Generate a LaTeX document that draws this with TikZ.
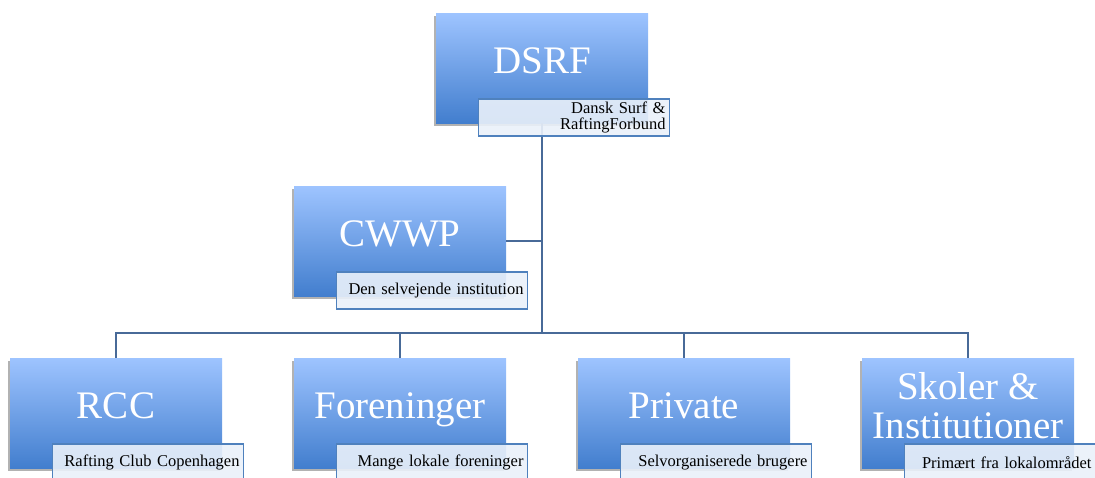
\documentclass[tikz,border=0pt]{standalone}
\usepackage{fontspec}
\setmainfont{Liberation Serif}
\usetikzlibrary{shadows}
\definecolor{boxtop}{RGB}{158,196,255}
\definecolor{boxbottom}{RGB}{66,126,206}
\definecolor{tagfill}{RGB}{234,241,250}
\definecolor{tagline}{RGB}{79,129,189}
\definecolor{wirecol}{RGB}{72,106,152}
\tikzset{
  unit/.style={minimum width=212pt, minimum height=110pt, inner sep=0pt,
    top color=boxtop, bottom color=boxbottom,
    drop shadow={shadow xshift=-2pt, shadow yshift=-3pt, fill=black, opacity=.3}},
  title/.style={text=white, anchor=base, align=center,
    font=\fontsize{39}{39}\selectfont},
  tag/.style={anchor=north west, draw=tagline, line width=1.5pt,
    fill=tagfill, fill opacity=.9, text opacity=1,
    minimum width=191pt, minimum height=37pt, text width=183pt,
    inner xsep=4pt, inner ysep=0pt, align=right,
    font=\fontsize{16.5}{16}\selectfont},
  link/.style={draw=wirecol, line width=1.8pt}
}
\begin{document}
\begin{tikzpicture}[x=1pt,y=-1pt]
\useasboundingbox (0,0) rectangle (1095,477);

% boxes
\node[unit] (dsrf) at (542,68) {};
\node[unit] (cwwp) at (400,241) {};
\node[unit] (rcc) at (116,413) {};
\node[unit] (foren) at (400,413) {};
\node[unit] (priv) at (684,413) {};
\node[unit] (skoler) at (968,413) {};

% titles
\node[title] (dsrf-t) at ([yshift=-5pt]dsrf.center) {DSRF};
\node[title] (cwwp-t) at ([yshift=-5pt]cwwp.center) {CWWP};
\node[title] (rcc-t) at ([yshift=-5pt]rcc.center) {RCC};
\node[title] (foren-t) at ([yshift=-5pt]foren.center) {Foreninger};
\node[title] (priv-t) at ([yshift=-5pt]priv.center) {Private};
\node[title] (skoler-t) at ([yshift=-25pt]skoler.center) {Skoler \&\\Institutioner};

% connectors
\coordinate (hub) at (dsrf.south |- 0,333);
\draw[link] (dsrf.south) -- (hub);
\draw[link] (cwwp.east) -- (cwwp.east -| hub);
\draw[link] (rcc.north) |- (hub) -| (skoler.north);
\foreach \n in {foren,priv}
  \draw[link] (\n.north |- hub) -- (\n.north);

% tags
\node[tag] (dsrf-l) at ([xshift=42pt,yshift=25pt]dsrf.south west) {Dansk Surf \&\\RaftingForbund};
\node[tag] (cwwp-l) at ([xshift=42pt,yshift=25pt]cwwp.south west) {Den selvejende institution};
\node[tag] (rcc-l) at ([xshift=42pt,yshift=25pt]rcc.south west) {Rafting Club Copenhagen};
\node[tag] (foren-l) at ([xshift=42pt,yshift=25pt]foren.south west) {Mange lokale foreninger};
\node[tag] (priv-l) at ([xshift=42pt,yshift=25pt]priv.south west) {Selvorganiserede brugere};
\node[tag] (skoler-l) at ([xshift=42pt,yshift=25pt]skoler.south west) {Primært fra lokalområdet};

\end{tikzpicture}
\end{document}
